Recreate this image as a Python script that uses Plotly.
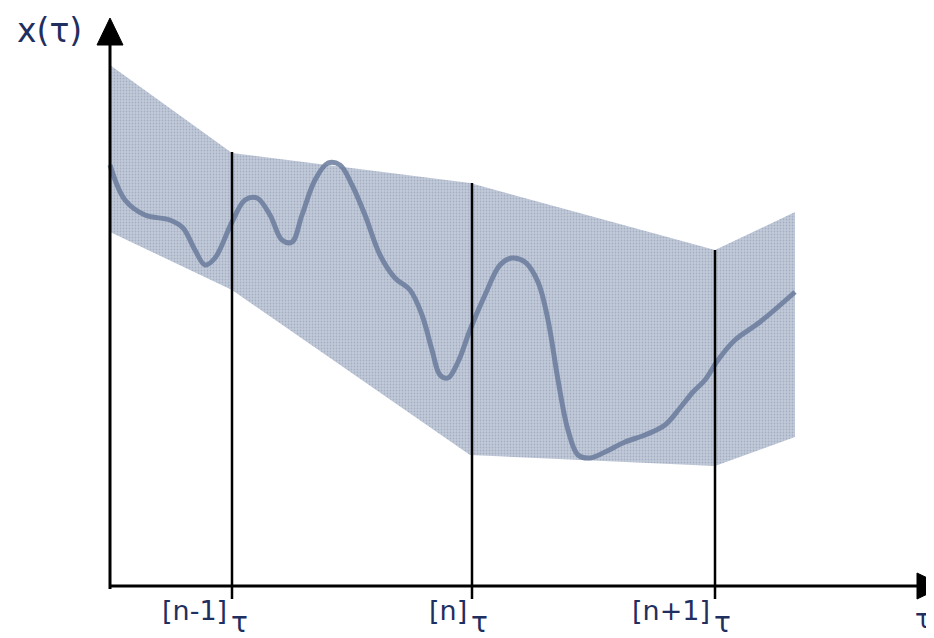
import plotly.graph_objects as go

# Diagram coordinates (x to the right, y downward as in the drawing)
band_upper_x = [110, 232, 470, 715, 795]
band_upper_y = [65, 153, 183, 250, 212]
band_lower_x = [110, 232, 470, 715, 795]
band_lower_y = [232, 290, 455, 466, 437]

curve_x = [110, 125, 145, 170, 183, 195, 205, 215, 232, 245, 257, 270, 282, 292, 302,
           315, 328, 340, 352, 365, 380, 395, 410, 422, 432, 440, 448, 458, 470, 485,
           500, 512, 525, 538, 548, 558, 568, 578, 590, 605, 625, 645, 665, 680, 693,
           705, 718, 735, 760, 795]
curve_y = [165, 200, 215, 220, 228, 250, 265, 258, 222, 200, 198, 215, 240, 242, 215,
           180, 163, 165, 185, 215, 255, 278, 290, 315, 350, 375, 378, 362, 330, 295,
           265, 258, 262, 282, 320, 380, 430, 455, 458, 452, 442, 435, 425, 408, 392,
           380, 360, 340, 322, 292]

marker_x = [232, 472, 715]
marker_top = [152, 183, 250]
marker_labels = ["[n-1]", "[n]", "[n+1]"]

axis_origin = (110, 586)
x_axis_end = 944
y_axis_end = 18

# page body has an 8px margin; shift the axis ranges so drawing coords equal page pixels
OFF = 8
W, H = 934 - OFF, 638 - OFF

fig = go.Figure()

# band
fig.add_trace(go.Scatter(
    x=band_upper_x + band_lower_x[::-1],
    y=band_upper_y + band_lower_y[::-1],
    fill="toself", mode="lines", line=dict(width=0),
    fillcolor="#b6bfd0",
    fillpattern=dict(shape=".", bgcolor="#c2cad9", fgcolor="#8591ab", size=3, solidity=0.3),
    hoverinfo="skip", showlegend=False))

# curve
fig.add_trace(go.Scatter(
    x=curve_x, y=curve_y, mode="lines",
    line=dict(color="rgba(105,122,155,0.85)", width=5, shape="spline", smoothing=1.0),
    hoverinfo="skip", showlegend=False))

ox, oy = axis_origin
shapes = []
shapes.append(dict(type="line", x0=ox, x1=ox, y0=oy + 3, y1=y_axis_end + 20,
                   line=dict(color="black", width=3)))
shapes.append(dict(type="line", x0=ox - 1, x1=x_axis_end - 20, y0=oy, y1=oy,
                   line=dict(color="black", width=3)))
for mx, mt in zip(marker_x, marker_top):
    shapes.append(dict(type="line", x0=mx, x1=mx, y0=mt, y1=oy + 13,
                       line=dict(color="black", width=2.5)))

# arrowheads
fig.add_trace(go.Scatter(x=[ox - 13, ox + 13, ox, ox - 13],
                         y=[y_axis_end + 27, y_axis_end + 27, y_axis_end, y_axis_end + 27],
                         fill="toself", fillcolor="black", mode="lines",
                         line=dict(color="black", width=1), hoverinfo="skip", showlegend=False))
fig.add_trace(go.Scatter(x=[x_axis_end - 27, x_axis_end - 27, x_axis_end, x_axis_end - 27],
                         y=[oy - 13, oy + 13, oy, oy - 13],
                         fill="toself", fillcolor="black", mode="lines",
                         line=dict(color="black", width=1), hoverinfo="skip", showlegend=False))

txt_color = "#1f2f5f"
annotations = [dict(x=15, y=30, text="x(τ)", showarrow=False, xanchor="left", xref="x", yref="y",
                    font=dict(family="DejaVu Sans", size=33, color=txt_color))]
for mx, lab in zip(marker_x, marker_labels):
    annotations.append(dict(x=mx - 3, y=610, text=lab, showarrow=False, xanchor="right",
                            xref="x", yref="y",
                            font=dict(family="DejaVu Sans", size=27, color=txt_color)))
    annotations.append(dict(x=mx - 3, y=622, text="τ", showarrow=False, xanchor="left",
                            xref="x", yref="y",
                            font=dict(family="DejaVu Sans", size=28, color=txt_color)))
annotations.append(dict(x=913, y=619, text="τ", showarrow=False, xanchor="left", xref="x", yref="y",
                        font=dict(family="DejaVu Sans", size=26, color=txt_color)))

fig.update_layout(
    width=W, height=H, margin=dict(l=0, r=0, t=0, b=0),
    paper_bgcolor="white", plot_bgcolor="white",
    xaxis=dict(range=[OFF, 934], visible=False, fixedrange=True),
    yaxis=dict(range=[638, OFF], visible=False, fixedrange=True),
    shapes=shapes, annotations=annotations)

fig.write_html("out.html")
